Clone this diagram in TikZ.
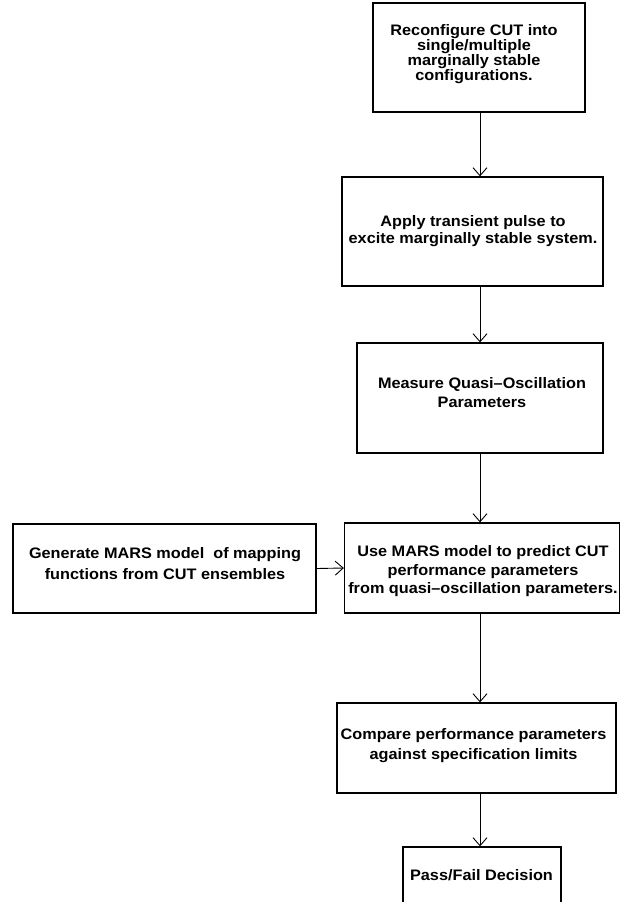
\documentclass[tikz,border=0pt]{standalone}
\usepackage{fontspec}
\setmainfont{Liberation Sans}[FakeStretch=1.07]
\usetikzlibrary{arrows.meta}
\begin{document}
\begin{tikzpicture}[x=1pt,y=-1pt,
  box/.style={draw=black, line width=1.3pt, rectangle, inner sep=0pt},
  txt/.style={align=center, inner sep=0pt},
  fs/.style={font=\fontsize{15.2}{#1}\selectfont\bfseries},
  conn/.style={line width=0.9pt, -{Straight Barb[length=8pt,width=14pt,line width=0.9pt]}}]
\useasboundingbox (0,0) rectangle (621,902);
\clip (0,0) rectangle (621,902);
% boxes
\node[box, minimum width=212pt, minimum height=109pt] (b1) at (479,57.5) {};
\node[box, minimum width=261pt, minimum height=109pt] (b2) at (472.5,231.5) {};
\node[box, minimum width=246pt, minimum height=110pt] (b3) at (480,398) {};
\node[box, minimum width=275pt, minimum height=90pt] (b4) at (482,568) {};
\node[box, minimum width=303pt, minimum height=89pt] (gen) at (164.5,568.5) {};
\node[box, minimum width=279pt, minimum height=90pt] (cmp) at (476.5,748) {};
\node[box, minimum width=158pt, minimum height=60pt] (pf) at (482,877) {};
% texts
\node[txt, fs=15] (t1) at (474,54.5)
  {Reconfigure CUT into\\single/multiple\\marginally stable\\ configurations.};
\node[txt, fs=17] (t2) at (473,231.5)
  {Apply transient pulse to\\ excite marginally stable system.};
\node[txt, fs=19] (t3) at (482,392.5)
  {Measure Quasi–Oscillation\\Parameters};
\node[txt, fs=18.5] (t4) at (483,571.5)
  {Use MARS model to predict CUT\\performance parameters\\from quasi–oscillation parameters.};
\node[txt, fs=21] (tg) at (165,564)
  {Generate MARS model\ \ of mapping\\functions from CUT ensembles};
\node[txt, fs=20] (tc) at (473.5,746)
  {Compare performance parameters\\against specification limits};
\node[txt, fs=17] (tp) at (481.5,875)
  {Pass/Fail Decision};
% connectors
\coordinate (ax) at (480,0);
\draw[conn] (b1.south -| ax) -- (b2.north -| ax);
\draw[conn] (b2.south -| ax) -- (b3.north -| ax);
\draw[conn] (b3.south -| ax) -- (b4.north -| ax);
\draw[conn] (b4.south -| ax) -- (cmp.north -| ax);
\draw[conn] (cmp.south -| ax) -- (pf.north -| ax);
\draw[conn] (gen.east) -- (b4.west);
\end{tikzpicture}
\end{document}
